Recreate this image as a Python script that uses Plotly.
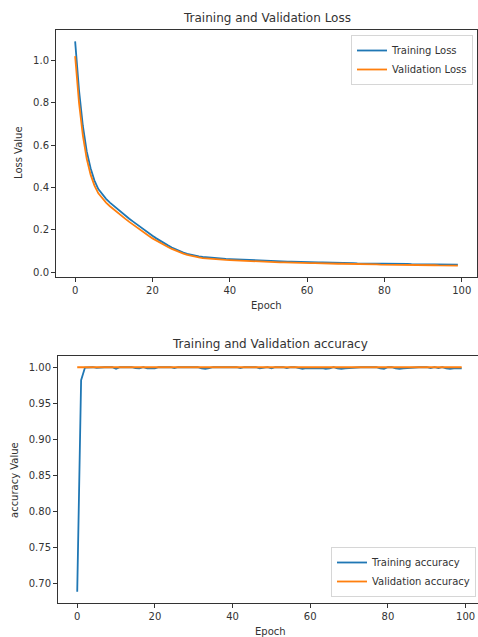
import plotly.graph_objects as go

epochs = list(range(100))

train_loss = [
    1.090, 0.860, 0.690, 0.570, 0.490, 0.432, 0.392, 0.366, 0.346, 0.328,
    0.312, 0.296, 0.281, 0.266, 0.252, 0.238, 0.224, 0.210, 0.197, 0.184,
    0.171, 0.159, 0.147, 0.136, 0.126, 0.116, 0.107, 0.099, 0.092, 0.086,
    0.081, 0.077, 0.074, 0.071, 0.069, 0.067, 0.066, 0.064, 0.063, 0.062,
    0.061, 0.060, 0.059, 0.058, 0.057, 0.056, 0.055, 0.055, 0.054, 0.053,
    0.052, 0.052, 0.051, 0.050, 0.050, 0.049, 0.049, 0.048, 0.048, 0.047,
    0.047, 0.046, 0.046, 0.045, 0.045, 0.045, 0.044, 0.044, 0.043, 0.043,
    0.043, 0.042, 0.042, 0.041, 0.041, 0.041, 0.040, 0.040, 0.040, 0.039,
    0.039, 0.039, 0.038, 0.038, 0.038, 0.039, 0.038, 0.037, 0.037, 0.037,
    0.036, 0.036, 0.036, 0.036, 0.035, 0.035, 0.035, 0.035, 0.036, 0.035,
]

val_loss = [
    1.020, 0.800, 0.645, 0.535, 0.460, 0.408, 0.372, 0.348, 0.328, 0.311,
    0.295, 0.280, 0.265, 0.251, 0.237, 0.223, 0.209, 0.196, 0.183, 0.171,
    0.159, 0.148, 0.137, 0.127, 0.118, 0.109, 0.101, 0.094, 0.087, 0.081,
    0.076, 0.072, 0.069, 0.066, 0.064, 0.062, 0.061, 0.060, 0.058, 0.057,
    0.056, 0.055, 0.054, 0.053, 0.052, 0.051, 0.051, 0.050, 0.049, 0.048,
    0.048, 0.047, 0.047, 0.046, 0.046, 0.045, 0.045, 0.044, 0.044, 0.043,
    0.043, 0.042, 0.042, 0.041, 0.041, 0.041, 0.040, 0.040, 0.039, 0.039,
    0.039, 0.038, 0.038, 0.037, 0.037, 0.037, 0.036, 0.036, 0.036, 0.035,
    0.035, 0.035, 0.034, 0.034, 0.034, 0.034, 0.034, 0.033, 0.033, 0.033,
    0.032, 0.032, 0.032, 0.032, 0.031, 0.031, 0.031, 0.031, 0.031, 0.030,
]

train_acc = [
    0.688, 0.982, 0.9995, 1.0, 1.0, 0.9992, 1.0, 1.0, 1.0, 1.0,
    0.9979, 1.0, 1.0, 1.0, 1.0, 0.9989, 0.9985, 1.0, 0.9985, 0.9989,
    0.9985, 1.0, 1.0, 1.0, 1.0, 0.9989, 1.0, 1.0, 1.0, 1.0,
    1.0, 1.0, 0.9985, 0.9979, 0.9989, 1.0, 1.0, 1.0, 1.0, 1.0,
    1.0, 1.0, 0.9989, 1.0, 1.0, 1.0, 1.0, 0.9985, 0.9989, 1.0,
    0.9985, 1.0, 1.0, 1.0, 0.9989, 1.0, 1.0, 0.9985, 0.9979, 0.9989,
    0.9985, 0.9979, 0.9985, 0.9989, 0.9979, 0.9985, 1.0, 0.9985, 0.9979, 0.9985,
    0.9989, 1.0, 1.0, 1.0, 1.0, 1.0, 1.0, 1.0, 0.9985, 0.9979,
    1.0, 1.0, 0.9985, 0.9979, 0.9985, 0.9989, 1.0, 1.0, 1.0, 1.0,
    1.0, 0.9989, 1.0, 0.9989, 1.0, 0.9985, 0.9979, 0.9985, 0.9989, 0.9985,
]

val_acc = [
    1.0, 1.0, 1.0, 1.0, 1.0, 1.0, 1.0, 1.0, 1.0, 1.0,
    1.0, 1.0, 1.0, 1.0, 1.0, 1.0, 1.0, 1.0, 1.0, 1.0,
    1.0, 1.0, 1.0, 1.0, 1.0, 1.0, 1.0, 1.0, 1.0, 1.0,
    1.0, 1.0, 1.0, 1.0, 1.0, 1.0, 1.0, 1.0, 1.0, 1.0,
    1.0, 1.0, 1.0, 1.0, 1.0, 1.0, 1.0, 1.0, 1.0, 1.0,
    1.0, 1.0, 1.0, 1.0, 1.0, 1.0, 1.0, 1.0, 1.0, 1.0,
    1.0, 1.0, 1.0, 1.0, 1.0, 1.0, 1.0, 1.0, 1.0, 1.0,
    1.0, 1.0, 1.0, 1.0, 1.0, 1.0, 1.0, 1.0, 1.0, 1.0,
    1.0, 1.0, 1.0, 1.0, 1.0, 1.0, 1.0, 1.0, 1.0, 1.0,
    1.0, 1.0, 1.0, 1.0, 1.0, 1.0, 1.0, 1.0, 1.0, 1.0,
]

x_ticks = [0, 20, 40, 60, 80, 100]
loss_ticks = [0.0, 0.2, 0.4, 0.6, 0.8, 1.0]
acc_ticks = [0.70, 0.75, 0.80, 0.85, 0.90, 0.95, 1.00]

BLUE = "#1f77b4"
ORANGE = "#ff7f0e"
INK = "#333333"
FONT = "DejaVu Sans"
W, H = 478, 637

fig = go.Figure()
fig.add_trace(go.Scatter(x=epochs, y=train_loss, mode="lines", name="Training Loss",
                         line=dict(color=BLUE, width=1.8), xaxis="x", yaxis="y", legend="legend"))
fig.add_trace(go.Scatter(x=epochs, y=val_loss, mode="lines", name="Validation Loss",
                         line=dict(color=ORANGE, width=1.8), xaxis="x", yaxis="y", legend="legend"))
fig.add_trace(go.Scatter(x=epochs, y=train_acc, mode="lines", name="Training accuracy",
                         line=dict(color=BLUE, width=1.8), xaxis="x2", yaxis="y2", legend="legend2"))
fig.add_trace(go.Scatter(x=epochs, y=val_acc, mode="lines", name="Validation accuracy",
                         line=dict(color=ORANGE, width=1.8), xaxis="x2", yaxis="y2", legend="legend2"))

axis_common = dict(showgrid=False, zeroline=False, showline=True, linecolor=INK, linewidth=1,
                   ticks="outside", ticklen=4, tickwidth=1, tickcolor=INK,
                   tickfont=dict(family=FONT, size=10, color=INK), automargin=False)

def py(px):
    return 1 - px / H

legend_common = dict(bgcolor="rgba(255,255,255,0.9)", bordercolor="#d6d6d6", borderwidth=1,
                     font=dict(family=FONT, size=10, color=INK), itemwidth=30,
                     tracegroupgap=0)

fig.update_layout(
    width=W, height=H,
    margin=dict(l=0, r=0, t=0, b=0),
    paper_bgcolor="white", plot_bgcolor="white",
    font=dict(family=FONT, size=10, color=INK),
    xaxis=dict(domain=[56 / W, 477 / W], range=[-4.95, 103.95], anchor="y",
               tickvals=x_ticks, mirror=True, **axis_common),
    yaxis=dict(domain=[py(277), py(30)], range=[-0.0235, 1.1435], anchor="x",
               tickvals=loss_ticks, tickformat=".1f", mirror=True, **axis_common),
    xaxis2=dict(domain=[58 / W, 1.0], range=[-4.95, 103.2], anchor="y2",
                tickvals=x_ticks, mirror=True, **axis_common),
    yaxis2=dict(domain=[py(603), py(356)], range=[0.6724, 1.0156], anchor="x2",
                tickvals=acc_ticks, tickformat=".2f", mirror=False, **axis_common),
    legend=dict(x=473 / W, xanchor="right", y=py(35), yanchor="top", **legend_common),
    legend2=dict(x=476 / W, xanchor="right", y=py(597), yanchor="bottom", **legend_common),
    showlegend=True,
)

annotations = [
    dict(text="Training and Validation Loss", x=266.5 / W, y=py(18), font=dict(size=12)),
    dict(text="Training and Validation accuracy", x=270 / W, y=py(344), font=dict(size=12)),
    dict(text="Epoch", x=266.5 / W, y=py(305), font=dict(size=10)),
    dict(text="Epoch", x=270 / W, y=py(631), font=dict(size=10)),
    dict(text="Loss Value", x=18 / W, y=py(153), textangle=-90, font=dict(size=10)),
    dict(text="accuracy Value", x=14 / W, y=py(480), textangle=-90, font=dict(size=10)),
]
for a in annotations:
    a.update(xref="paper", yref="paper", xanchor="center", yanchor="middle",
             showarrow=False)
    a["font"].update(family=FONT, color=INK)
fig.update_layout(annotations=annotations)

fig.write_html(
    "out.html",
    config={"displayModeBar": False},
    post_script="document.body.style.margin='0';document.body.style.overflow='hidden';",
)
